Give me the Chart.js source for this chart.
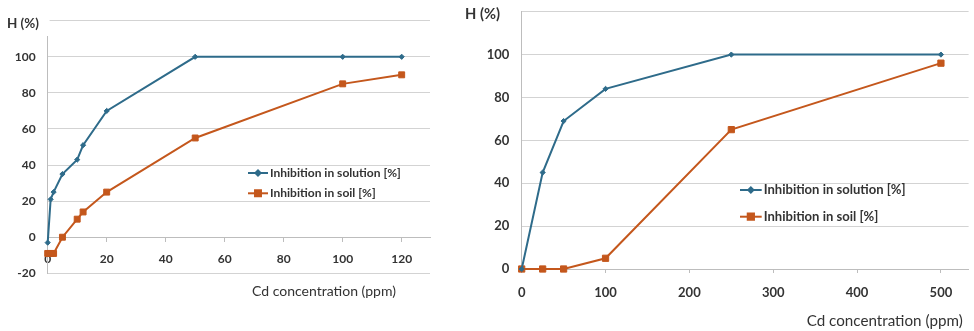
<!DOCTYPE html>
<html><head><meta charset="utf-8">
<script src="https://cdn.jsdelivr.net/npm/chart.js@4"></script>
<style>
body{margin:0;background:#fff;width:974px;height:331px;overflow:hidden;position:relative}
canvas{position:absolute;top:0}
#c1{left:0}
#c2{left:460px}
</style></head>
<body>
<canvas id="c1" width="460" height="331"></canvas>
<canvas id="c2" width="514" height="331"></canvas>
<script>
// ---- data ----
const seriesNames = ['Inhibition in solution [%]', 'Inhibition in soil [%]'];
const yTitleText = 'H (%)';
const xTitleText = 'Cd concentration (ppm)';

const leftX        = [0, 1, 2, 5, 10, 12, 20, 50, 100, 120];
const leftSolution = [-3, 21, 25, 35, 43, 51, 70, 100, 100, 100];
const leftSoil     = [-9, -9, -9, 0, 10, 14, 25, 55, 85, 90];
const leftXTicks   = [0, 20, 40, 60, 80, 100, 120];
const leftYTicks   = [-20, 0, 20, 40, 60, 80, 100, 120];

const rightX        = [0, 25, 50, 100, 250, 500];
const rightSolution = [0, 45, 69, 84, 100, 100];
const rightSoil     = [0, 0, 0, 5, 65, 96];
const rightXTicks   = [0, 100, 200, 300, 400, 500];
const rightYTicks   = [0, 20, 40, 60, 80, 100, 120];

// ---- style ----
const BLUE = '#2e6b8a';
const ORANGE = '#c4571c';
const GRID = '#d3d3d3';
const AXIS = '#bdbdbd';
const TEXT = '#333333';
const FONT = 'Lato';

const deco = {
  id: 'deco',
  afterDraw(chart, args, o) {
    const ctx = chart.ctx;
    ctx.save();
    if (o.cover) { ctx.fillStyle = '#fff'; ctx.fillRect(o.cover[0], o.cover[1], o.cover[2], o.cover[3]); }
    ctx.fillStyle = TEXT;
    ctx.textBaseline = 'middle';
    ctx.textAlign = 'left';
    const fit = (txt, w, weight) => {
      ctx.font = weight + ' 20px ' + FONT;
      const m = ctx.measureText(txt).width;
      const s = 20 * w / m;
      ctx.font = weight + ' ' + s.toFixed(2) + 'px ' + FONT;
      return s;
    };
    fit(yTitleText, o.yTitle.w, 'bold');
    ctx.fillText(yTitleText, o.yTitle.x, o.yTitle.y);
    fit(xTitleText, o.xTitle.w, 'normal');
    ctx.fillText(xTitleText, o.xTitle.x, o.xTitle.y);
    const L = o.legend;
    const ls = fit(seriesNames[0], L.w, 'bold');
    chart.data.datasets.forEach((ds, i) => {
      const y = L.y + i * L.dy;
      ctx.strokeStyle = ds.borderColor;
      ctx.lineWidth = 2;
      ctx.beginPath(); ctx.moveTo(L.x, y); ctx.lineTo(L.x + L.len, y); ctx.stroke();
      ctx.fillStyle = ds.backgroundColor;
      ctx.strokeStyle = ds.borderColor;
      Chart.helpers.drawPoint(ctx, {pointStyle: ds.pointStyle, rotation: 0, radius: ds.pointRadius, borderWidth: 1}, L.x + L.len / 2, y);
      ctx.fillStyle = TEXT;
      ctx.font = 'bold ' + ls.toFixed(2) + 'px ' + FONT;
      ctx.fillText(ds.label, L.x + L.len + 2, y);
    });
    ctx.restore();
  }
};

function pts(xs, ys) { return xs.map((x, i) => ({x: x, y: ys[i]})); }

function makeChart(id, cfg) {
  return new Chart(document.getElementById(id), {
    type: 'line',
    data: {
      datasets: [
        {label: seriesNames[0], data: pts(cfg.xs, cfg.sol), borderColor: BLUE, backgroundColor: BLUE,
         borderWidth: 2, pointStyle: 'rectRot', pointRadius: 2.6, pointBorderWidth: 1, tension: 0, clip: false},
        {label: seriesNames[1], data: pts(cfg.xs, cfg.soil), borderColor: ORANGE, backgroundColor: ORANGE,
         borderWidth: 2, pointStyle: 'rect', pointRadius: cfg.sq, pointBorderWidth: 1, tension: 0, clip: false}
      ]
    },
    options: {
      responsive: false, animation: false, devicePixelRatio: 1,
      layout: {padding: cfg.padding},
      plugins: {legend: {display: false}, tooltip: {enabled: false}, title: {display: false}, deco: cfg.deco},
      scales: {
        x: {
          type: 'linear', position: cfg.xPos, min: cfg.xMin, max: cfg.xMax,
          afterBuildTicks: s => { s.ticks = cfg.xTicks.map(v => ({value: v})); },
          afterFit: s => { if (cfg.xHeight) s.height = cfg.xHeight; },
          grid: {drawOnChartArea: false, drawTicks: true, tickLength: 4, color: AXIS},
          border: {display: true, color: AXIS, width: 1},
          ticks: {padding: cfg.xPad, color: TEXT, font: {family: FONT, size: cfg.tickSize, weight: 'bold'}, maxRotation: 0, autoSkip: false}
        },
        y: {
          type: 'linear', min: cfg.yMin, max: cfg.yMax,
          afterBuildTicks: s => { s.ticks = cfg.yTicks.map(v => ({value: v})); },
          afterFit: s => { s.width = cfg.yWidth; },
          grid: {drawTicks: true, tickLength: cfg.yPad, tickColor: 'rgba(0,0,0,0)', color: GRID, lineWidth: 1},
          border: {display: true, color: AXIS, width: 1},
          ticks: {padding: 0, color: TEXT, font: {family: FONT, size: cfg.tickSize, weight: 'bold'},
                  callback: v => (v === cfg.yMax ? '' : String(v))}
        }
      }
    },
    plugins: [deco]
  });
}

makeChart('c1', {
  xs: leftX, sol: leftSolution, soil: leftSoil, sq: 4.2,
  xTicks: leftXTicks, yTicks: leftYTicks,
  xMin: 0, xMax: 129.6, yMin: -20, yMax: 120,
  xPos: {y: 0}, xPad: 11, yPad: 12, yWidth: 47.7, tickSize: 12,
  padding: {left: 0, top: 20.7, right: 30, bottom: 57.7},
  deco: {
    cover: [0, 0, 49.6, 36],
    yTitle: {x: 7, y: 24, w: 32},
    xTitle: {x: 252, y: 291, w: 144},
    legend: {x: 248, y: 173, dy: 20.3, len: 20, w: 131}
  }
});

makeChart('c2', {
  xs: rightX, sol: rightSolution, soil: rightSoil, sq: 4.4,
  xTicks: rightXTicks, yTicks: rightYTicks,
  xMin: 0, xMax: 533, yMin: 0, yMax: 120,
  xPos: 'bottom', xHeight: 62, xPad: 12, yPad: 12.4, yWidth: 61.7, tickSize: 13,
  padding: {left: 0, top: 11.7, right: 0, bottom: 0},
  deco: {
    cover: null,
    yTitle: {x: 5, y: 14, w: 35},
    xTitle: {x: 346.7, y: 321, w: 156},
    legend: {x: 280, y: 190, dy: 26.7, len: 21.7, w: 142}
  }
});
</script>
</body></html>
